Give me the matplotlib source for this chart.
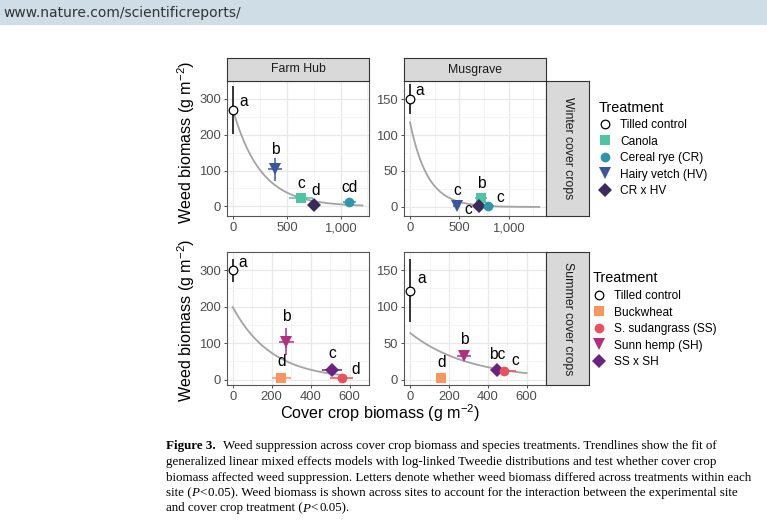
import numpy as np
import matplotlib
matplotlib.use("Agg")
import matplotlib.pyplot as plt
from matplotlib.lines import Line2D

# ---------------- data ----------------
winter_treatments = ["Tilled control", "Canola", "Cereal rye (CR)", "Hairy vetch (HV)", "CR x HV"]
summer_treatments = ["Tilled control", "Buckwheat", "S. sudangrass (SS)", "Sunn hemp (SH)", "SS x SH"]

# Farm Hub, winter
fhw_x = [0, 630, 1080, 390, 750]
fhw_y = [268, 23, 12, 103, 5]
fhw_xerr = [0, 110, 60, 65, 30]
fhw_yerr = [67, 8, 6, 32, 5]
fhw_letters = ["a", "c", "cd", "b", "d"]

# Musgrave, winter
mgw_x = [0, 722, 790, 475, 705]
mgw_y = [150, 13, 1, 1, 1]
mgw_xerr = [0, 60, 60, 35, 50]
mgw_yerr = [21, 5, 2, 2, 2]
mgw_letters = ["a", "b", "c", "c", "c"]

# Farm Hub, summer
fhs_x = [0, 250, 559, 275, 510]
fhs_y = [300, 5, 4, 104, 27]
fhs_xerr = [0, 47, 60, 38, 49]
fhs_yerr = [32, 4, 4, 38, 8]
fhs_letters = ["a", "d", "d", "b", "c"]

# Musgrave, summer
mgs_x = [0, 160, 484, 276, 446]
mgs_y = [122, 2, 12, 33, 13]
mgs_xerr = [0, 20, 60, 37, 30]
mgs_yerr = [43, 2, 3, 4, 3]
mgs_letters = ["a", "d", "c", "b", "bc"]

# log-linked trendline fits: y = exp(log_intercept + slope * x), over [0, x_end]
fhw_fit = (np.log(265), -0.00387, 1205)
mgw_fit = (np.log(117.5), -0.0056, 1312)
fhs_fit = (np.log(199), -0.0050, 580)
mgs_fit = (np.log(63.7), -0.0033, 600)

sites = ["Farm Hub", "Musgrave"]
seasons = ["Winter cover crops", "Summer cover crops"]

# ---------------- styles ----------------
plt.rcParams["font.family"] = ["Liberation Sans", "DejaVu Sans"]
plt.rcParams["mathtext.fontset"] = "custom"
plt.rcParams["mathtext.rm"] = "Liberation Sans"
plt.rcParams["mathtext.it"] = "Liberation Sans:italic"
plt.rcParams["mathtext.bf"] = "Liberation Sans:bold"

winter_colors = ["white", "#4fc4a5", "#2e96ab", "#3b559f", "#3b2a5b"]
summer_colors = ["white", "#f9955f", "#e9515a", "#b22f80", "#6c2281"]
markers = ["o", "s", "o", "v", "D"]
msizes = [6.2, 6.5, 7.0, 9.0, 7.0]

W, H = 767, 522
fig = plt.figure(figsize=(W / 100, H / 100), dpi=100)
fig.patch.set_facecolor("white")

def fx(px):
    return px / W

def fy(py):
    return 1 - py / H

def box(l, t, r, b):
    return [fx(l), fy(b), fx(r) - fx(l), fy(t) - fy(b)]

# header band
hdr = fig.add_axes([0, fy(25), 1, 25 / H])
hdr.set_facecolor("#cfdde6")
hdr.set_xticks([]); hdr.set_yticks([])
for s in hdr.spines.values():
    s.set_visible(False)
fig.text(fx(3), fy(12.5), "www.nature.com/scientificreports/", fontsize=10,
         color="#333333", va="center", ha="left", family="DejaVu Sans")

panel_cols = [(227, 369), (404, 546)]
panel_rows = [(81, 216), (252, 385)]

panels = [
    (0, 0, fhw_x, fhw_y, fhw_xerr, fhw_yerr, fhw_letters, fhw_fit, (-60, 1265), (-27, 341),
     [0, 500, 1000], [0, 100, 200, 300], winter_colors),
    (0, 1, mgw_x, mgw_y, mgw_xerr, mgw_yerr, mgw_letters, mgw_fit, (-61, 1380), (-12.5, 174),
     [0, 500, 1000], [0, 50, 100, 150], winter_colors),
    (1, 0, fhs_x, fhs_y, fhs_xerr, fhs_yerr, fhs_letters, fhs_fit, (-29.4, 667), (-15, 337),
     [0, 200, 400, 600], [0, 100, 200, 300], summer_colors),
    (1, 1, mgs_x, mgs_y, mgs_xerr, mgs_yerr, mgs_letters, mgs_fit, (-33, 673), (-7.4, 166),
     [0, 200, 400, 600], [0, 50, 100, 150], summer_colors),
]

# label offsets (points) per panel, per treatment: dx, dy, ha, va
label_offsets = {
    (0, 0): [(4, 1, "left", "bottom"), (0, 5, "center", "bottom"), (0, 5, "center", "bottom"),
             (0, 9, "center", "bottom"), (1, 5, "center", "bottom")],
    (0, 1): [(4, 1, "left", "bottom"), (0, 5, "center", "bottom"), (6, 6, "left", "center"),
             (0, 6, "center", "bottom"), (-5, -2, "right", "center")],
    (1, 0): [(4, 0, "left", "bottom"), (0, 6, "center", "bottom"), (7, 1, "left", "bottom"),
             (0, 13, "center", "bottom"), (0, 6, "center", "bottom")],
    (1, 1): [(5, 3, "left", "bottom"), (0, 6, "center", "bottom"), (5, 2, "left", "bottom"),
             (0, 6, "center", "bottom"), (0, 6, "center", "bottom")],
}

def fmt(v):
    return f"{int(v):,}"

for (r, c, xs, ys, xe, ye, letters, fit, xlim, ylim, xt, yt, cols) in panels:
    l, rr = panel_cols[c]
    t, b = panel_rows[r]
    ax = fig.add_axes(box(l, t, rr, b))
    ax.set_xlim(*xlim); ax.set_ylim(*ylim)
    ax.set_xticks(xt); ax.set_yticks(yt)
    ax.set_xticklabels([fmt(v) for v in xt])
    ax.set_yticklabels([fmt(v) for v in yt])
    ax.set_xticks([(xt[i] + xt[i + 1]) / 2 for i in range(len(xt) - 1)] + [xt[-1] + (xt[1] - xt[0]) / 2], minor=True)
    ax.set_yticks([(yt[i] + yt[i + 1]) / 2 for i in range(len(yt) - 1)] + [yt[-1] + (yt[1] - yt[0]) / 2], minor=True)
    ax.grid(True, which="major", color="#e8e8e8", lw=0.9)
    ax.grid(True, which="minor", color="#f2f2f2", lw=0.6)
    ax.set_axisbelow(True)
    ax.tick_params(which="minor", length=0)
    ax.tick_params(which="major", length=2.5, width=0.7, color="#4d4d4d",
                   labelsize=9.4, labelcolor="#4d4d4d", pad=2)
    for s in ax.spines.values():
        s.set_color("#555555"); s.set_linewidth(0.8)

    xx = np.linspace(0, fit[2], 200)
    ax.plot(xx, np.exp(fit[0] + fit[1] * xx), color="#a3a3a3", lw=1.3, zorder=2)

    order = [0, 1, 3, 4, 2]
    for i in order:
        col = cols[i]
        ecol = "black" if i == 0 else col
        ax.errorbar(xs[i], ys[i], xerr=xe[i] if xe[i] else None, yerr=ye[i],
                    fmt="none", ecolor=ecol, elinewidth=1.1, capsize=0, zorder=3)
        ax.plot(xs[i], ys[i], marker=markers[i], ms=msizes[i], color=col,
                mec="black" if i == 0 else col, mew=0.9 if i == 0 else 0,
                ls="none", zorder=4)
    for i in range(5):
        dx, dy, ha, va = label_offsets[(r, c)][i]
        ax.annotate(letters[i], (xs[i], ys[i]), xytext=(dx, dy), textcoords="offset points",
                    ha=ha, va=va, fontsize=11.2, color="black", zorder=5)

def strip(rect, text, rot=0):
    sa = fig.add_axes(rect)
    sa.set_facecolor("#d9d9d9")
    sa.set_xticks([]); sa.set_yticks([])
    for s in sa.spines.values():
        s.set_color("#333333"); s.set_linewidth(0.8)
    sa.text(0.5, 0.5, text, rotation=rot, ha="center", va="center", fontsize=8.8,
            color="#1a1a1a", transform=sa.transAxes)

strip(box(227, 58, 369, 81), sites[0])
strip(box(404, 58, 546, 81), sites[1])
strip(box(546, 81, 589, 216), seasons[0], rot=-90)
strip(box(546, 252, 589, 385), seasons[1], rot=-90)

# axis titles
ytitle = "Weed biomass (g m$^{-2}$)"
fig.text(fx(186), fy(142), ytitle, rotation=90, ha="center", va="center", fontsize=11.6)
fig.text(fx(186), fy(320), ytitle, rotation=90, ha="center", va="center", fontsize=11.6)
fig.text(fx(380), fy(413), "Cover crop biomass (g m$^{-2}$)", ha="center", va="center",
         fontsize=11.6)

# legends
def legend(treats, cols, anchor):
    handles = []
    for i, tname in enumerate(treats):
        handles.append(Line2D([], [], marker=markers[i], ls="none", color=cols[i],
                              ms=msizes[i],
                              mec="black" if i == 0 else cols[i], mew=0.9 if i == 0 else 0,
                              label=tname))
    fig.legend(handles=handles, loc="upper left", bbox_to_anchor=anchor,
               bbox_transform=fig.transFigure, frameon=False, title="Treatment",
               fontsize=8.6, title_fontsize=10.4, handlelength=1.0, handletextpad=0.75,
               labelspacing=0.38, borderaxespad=0, borderpad=0, alignment="left")

legend(winter_treatments, winter_colors, (fx(599), fy(100.5)))
legend(summer_treatments, summer_colors, (fx(593), fy(271.5)))

# caption (drawn as runs of differently styled text)
serif = ["Liberation Serif", "DejaVu Serif"]
cap_size = 9.4
fig.canvas.draw()
renderer = fig.canvas.get_renderer()

def run_line(x_px, y_px, parts):
    x = x_px
    for txt, style, gap in parts:
        x += gap
        t = fig.text(fx(x), fy(y_px), txt, fontsize=cap_size, family=serif, ha="left",
                     va="center", **style)
        x = t.get_window_extent(renderer).x1
    return x

N = {}
B = {"weight": "bold"}
I = {"style": "italic"}
line_y = [446, 462, 477.5, 493, 508.5]
run_line(166, line_y[0], [("Figure 3.", B, 0),
                          ("Weed suppression across cover crop biomass and species treatments. Trendlines show the fit of", N, 7)])
run_line(166, line_y[1], [("generalized linear mixed effects models with log-linked Tweedie distributions and test whether cover crop", N, 0)])
run_line(166, line_y[2], [("biomass affected weed suppression. Letters denote whether weed biomass differed across treatments within each", N, 0)])
run_line(166, line_y[3], [("site (", N, 0), ("P", I, -0.8), ("<", N, 1), ("0.05). Weed biomass is shown across sites to account for the interaction between the experimental site", N, 1)])
run_line(166, line_y[4], [("and cover crop treatment (", N, 0), ("P", I, -0.8), ("<", N, 1), ("0.05).", N, 1)])

fig.savefig("out.png", dpi=100)
